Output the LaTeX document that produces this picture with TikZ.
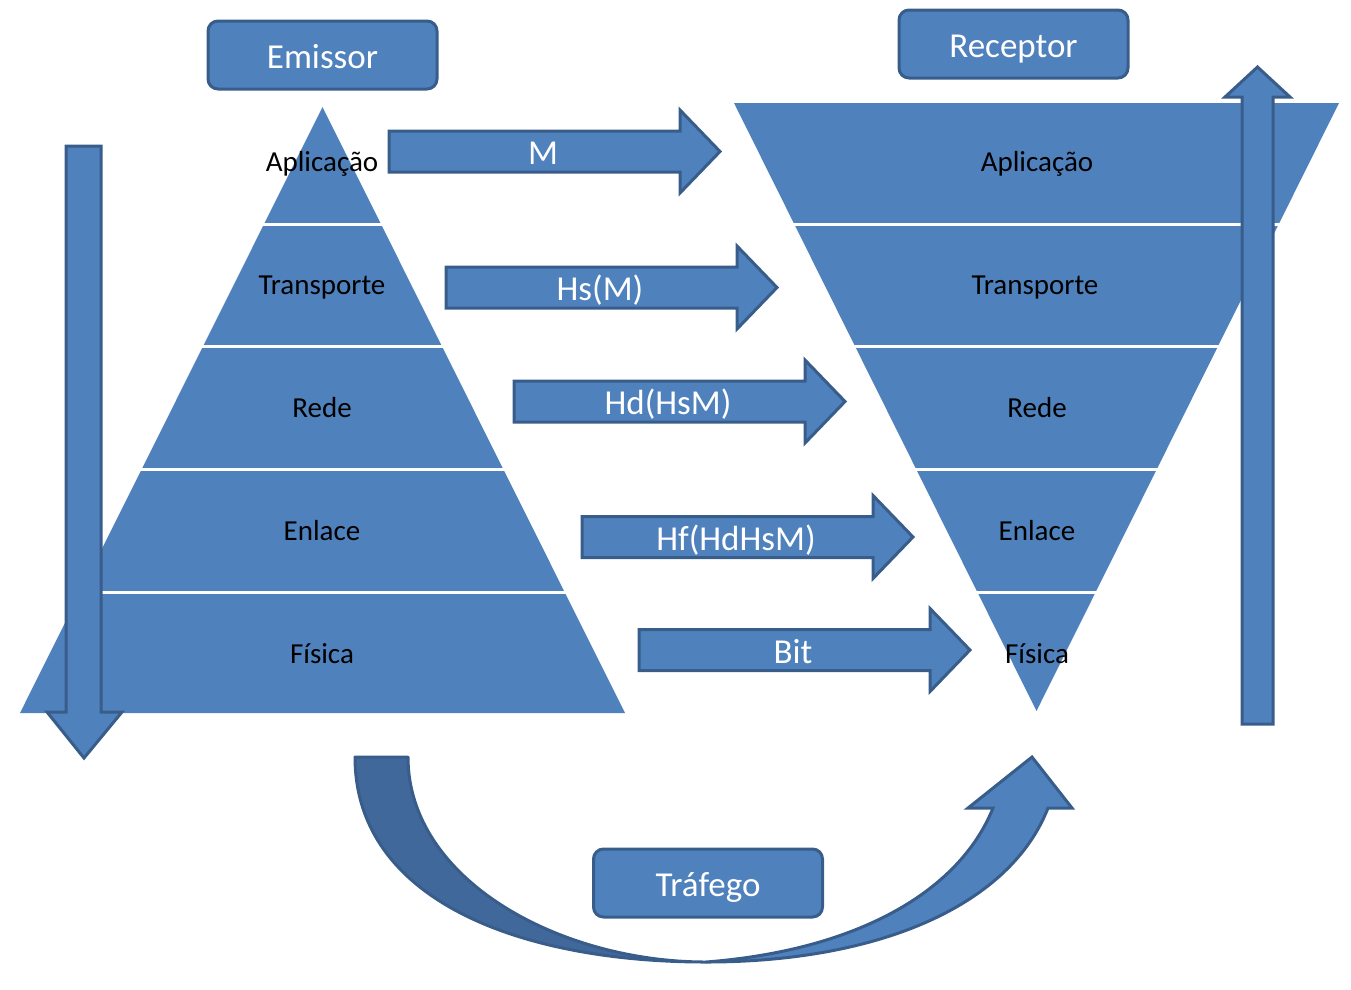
\documentclass[tikz,border=0pt]{standalone}
\usepackage{fontspec}
\setmainfont{Carlito}
\definecolor{fillb}{HTML}{4F81BD}
\definecolor{lineb}{HTML}{385D8A}
\definecolor{darkb}{HTML}{41689A}
\begin{document}
\begin{tikzpicture}[x=1pt,y=-1pt,
  sep/.style={draw=white,line width=3pt},
  lay/.style={font=\fontsize{29}{34}\selectfont,text=black,inner sep=0pt,text height=19pt,text depth=0pt},
  blk/.style={draw=lineb,fill=fillb,line width=3pt,line join=miter},
  lbl/.style={font=\fontsize{35}{40}\selectfont,text=white,inner sep=0pt,text height=26pt,text depth=0pt},
  box/.style={draw=lineb,fill=fillb,line width=3pt,rounded corners=10pt,minimum width=229pt,minimum height=68pt,inner sep=0pt,text height=26pt,text depth=0pt,font=\fontsize{35}{40}\selectfont,text=white}]
\useasboundingbox (0,0) rectangle (1351,989);
% left pyramid
\fill[fillb] (322.5,107) -- (625,713) -- (20,713) -- cycle;
\foreach \y/\a/\b in {224/262/383,346/201/444,469/140/505,592/78/567}
  \draw[sep] (\a,\y) -- (\b,\y);
\node[lay] (la) at (322,162) {Aplicação};
\node[lay] (lt) at (322,285) {Transporte};
\node[lay] (lr) at (322,408) {Rede};
\node[lay] (le) at (322,531) {Enlace};
\node[lay] (lf) at (322,654) {Física};
% right pyramid
\fill[fillb] (734,103) -- (1339,103) -- (1036.5,711) -- cycle;
\foreach \y/\a/\b in {224/792/1281,346/853/1220,469/914/1159,592/975/1098}
  \draw[sep] (\a,\y) -- (\b,\y);
\node[lay] (ra) at (1037,162) {Aplicação};
\node[lay] (rt) at (1035,285) {Transporte};
\node[lay] (rr) at (1037,408) {Rede};
\node[lay] (re) at (1037,531) {Enlace};
\node[lay] (rf) at (1037,654) {Física};
% vertical arrows
\draw[blk] (66,146) -- (101,146) -- (101,712) -- (122,712) -- (84,758) -- (47,712) -- (66,712) -- cycle;
\draw[blk] (1242,724) -- (1273,724) -- (1273,97) -- (1290,97) -- (1257.5,67) -- (1225,97) -- (1242,97) -- cycle;
% horizontal arrows
\foreach \x/\y/\n/\t in {389/151.5/m/M,446/287.5/hs/Hs(M),514/401.5/hd/Hd(HsM),582/537/hf/Hf(HdHsM),639/650/bit/Bit}{
  \draw[blk] (\x,\y-20.5) -- (\x+291,\y-20.5) -- (\x+291,\y-41.5) -- (\x+331,\y) -- (\x+291,\y+41.5) -- (\x+291,\y+20.5) -- (\x,\y+20.5) -- cycle;
  \node[lbl] (\n) at (\x+154,\y) {\t};
}
% boxes
\node[box] (em) at (322.5,55) {Emissor};
\node[box] (rc) at (1013.5,44) {Receptor};
% curved arrow
\draw[draw=lineb,fill=darkb,line width=3pt,line join=round]
  (355,757) -- (408,757) .. controls (408,880) and (560,962) .. (706,962)
  .. controls (520,962) and (355,900) .. (355,757) -- cycle;
\draw[draw=lineb,fill=fillb,line width=3pt,line join=miter]
  (706,962) .. controls (860,950) and (960,890) .. (993,808) -- (968,808) -- (1032,757) -- (1072,808) -- (1048,808)
  .. controls (1010,905) and (880,962) .. (706,962) -- cycle;
\node[box] (tr) at (708,883) {Tráfego};
\end{tikzpicture}
\end{document}
